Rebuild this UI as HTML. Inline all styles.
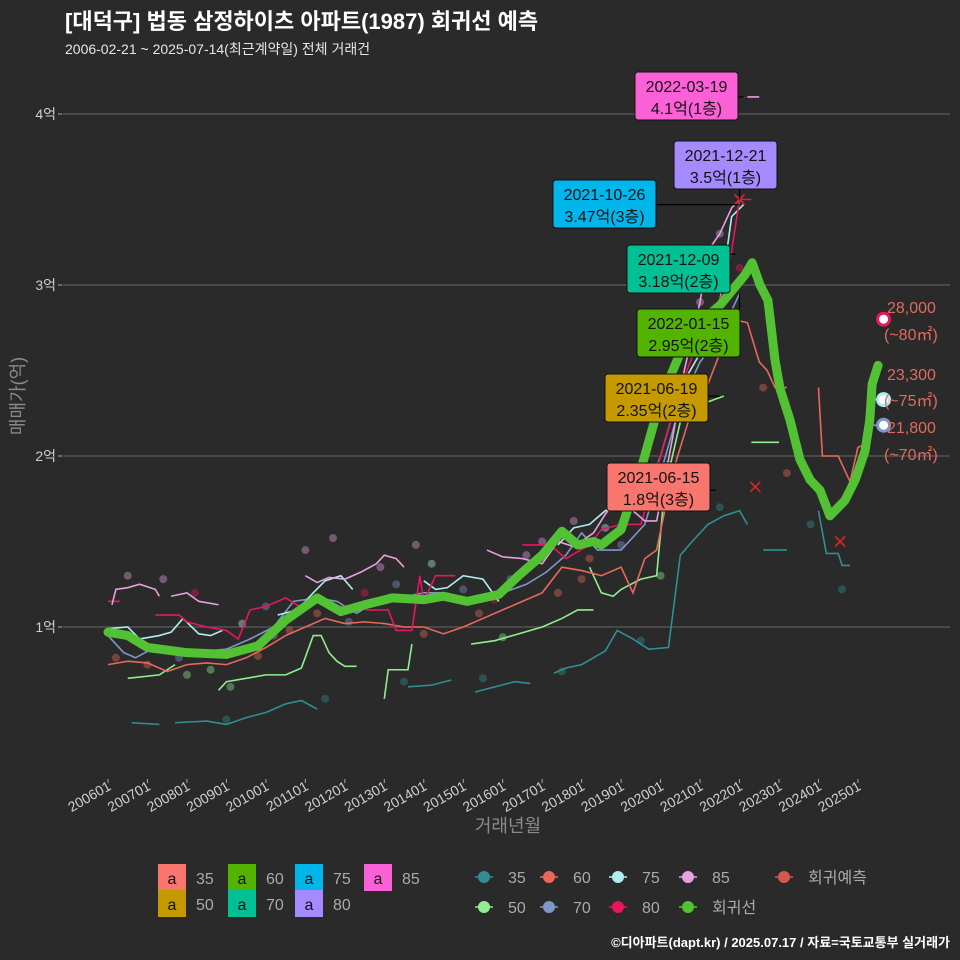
<!DOCTYPE html>
<html><head><meta charset="utf-8">
<style>
html,body{margin:0;padding:0;background:#2a2a2a;}
svg{display:block;font-family:"Liberation Sans","Noto Sans CJK KR",sans-serif;}
</style></head>
<body>
<svg id="chart" width="960" height="960" viewBox="0 0 960 960">
<rect width="960" height="960" fill="#2a2a2a"/>
<text x="65" y="29" fill="#fff" font-size="22" font-weight="bold">[대덕구] 법동 삼정하이츠 아파트(1987) 회귀선 예측</text>
<text x="65" y="54" fill="#e6e6e6" font-size="14">2006-02-21 ~ 2025-07-14(최근계약일) 전체 거래건</text>
<g id="grid"></g>
<g id="series"></g>
<g id="annot"></g>
<text transform="translate(24,396) rotate(-90)" text-anchor="middle" fill="#8a8a8a" font-size="18">매매가(억)</text>
<text x="508" y="832" text-anchor="middle" fill="#8a8a8a" font-size="18">거래년월</text>
<g id="legend"></g>
<text x="950" y="947" text-anchor="end" fill="#fff" font-size="13" font-weight="bold">©디아파트(dapt.kr) / 2025.07.17 / 자료=국토교통부 실거래가</text>
</svg>
<script>
// ---- data ----
const yTicks = [1, 2, 3, 4];
const yTickLabels = ["1억", "2억", "3억", "4억"];
const xTickYears = [2006,2007,2008,2009,2010,2011,2012,2013,2014,2015,2016,2017,2018,2019,2020,2021,2022,2023,2024,2025];
const xTickLabels = ["200601","200701","200801","200901","201001","201101","201201","201301","201401","201501","201601","201701","201801","201901","202001","202101","202201","202301","202401","202501"];

const seriesNames = ["35","50","60","70","75","80","85"];
const seriesColors = {"35":"#2f8f94","50":"#90ee90","60":"#e8685b","70":"#7f97c8","75":"#aeeeee","80":"#e8155f","85":"#e7a1df"};

const s35 = [
 [[2006.6,0.44],[2007.3,0.43]],
 [[2007.7,0.44],[2008.5,0.45],[2009.0,0.43],[2009.5,0.47],[2010.0,0.5],[2010.5,0.55],[2010.9,0.57],[2011.3,0.52]],
 [[2013.6,0.65],[2014.2,0.66],[2014.7,0.69]],
 [[2015.3,0.62],[2015.8,0.65],[2016.3,0.68],[2016.7,0.67]],
 [[2017.3,0.73],[2017.6,0.76],[2018.0,0.78],[2018.6,0.86],[2018.9,0.98],[2019.3,0.93],[2019.7,0.87],[2020.2,0.88],[2020.5,1.42],[2020.8,1.5],[2021.2,1.6],[2021.6,1.65],[2022.0,1.68],[2022.2,1.6]],
 [[2022.6,1.45],[2023.2,1.45]],
 [[2024.0,1.68],[2024.2,1.43],[2024.5,1.43],[2024.6,1.36],[2024.8,1.36]]
];
const s50 = [
 [[2006.5,0.7],[2007.3,0.72],[2007.7,0.78]],
 [[2008.8,0.63],[2009.0,0.68],[2009.5,0.7],[2010.0,0.72],[2010.5,0.72],[2010.9,0.76],[2011.2,0.95],[2011.4,0.95],[2011.6,0.85],[2011.8,0.8],[2012.0,0.77],[2012.3,0.77]],
 [[2013.0,0.58],[2013.1,0.75],[2013.6,0.75],[2013.7,0.9]],
 [[2015.2,0.9],[2015.8,0.92],[2016.4,0.96],[2017.0,1.0],[2017.5,1.05],[2017.9,1.1],[2018.3,1.1]],
 [[2018.2,1.35],[2018.5,1.2],[2018.8,1.18],[2019.0,1.22],[2019.5,1.28],[2019.9,1.3],[2020.1,1.8],[2020.5,2.2],[2021.0,2.3],[2021.6,2.35]],
 [[2022.3,2.08],[2023.0,2.08]]
];
const s60 = [
 [[2006.0,0.78],[2006.5,0.8],[2007.0,0.79],[2007.5,0.74],[2008.0,0.78],[2008.5,0.79],[2009.0,0.78],[2009.5,0.82],[2010.0,0.88],[2010.5,0.95],[2011.0,1.0],[2011.5,1.05],[2012.0,1.02],[2012.5,1.03],[2013.0,1.02],[2013.5,1.0],[2014.0,1.0],[2014.5,0.96],[2015.0,1.0],[2015.5,1.05],[2016.0,1.1],[2016.5,1.15],[2017.0,1.2],[2017.5,1.35],[2018.0,1.33],[2018.5,1.3],[2019.0,1.35],[2019.3,1.2],[2019.6,1.4],[2019.9,1.45],[2020.3,1.9],[2020.7,2.2],[2021.0,2.3],[2021.5,2.6],[2021.8,2.8],[2022.2,2.78],[2022.5,2.55],[2022.7,2.5],[2022.9,2.4],[2023.2,2.4]],
 [[2024.0,2.4],[2024.1,2.0],[2024.5,2.0],[2024.8,1.85],[2025.0,2.05],[2025.2,2.07]]
];
const s70 = [
 [[2006.0,0.95],[2006.4,0.85],[2006.7,0.82],[2007.1,0.87],[2007.8,0.87],[2008.5,0.86],[2009.0,0.87],[2009.6,0.93],[2010.2,1.0],[2010.7,1.15],[2011.3,1.17],[2011.8,1.15],[2012.3,1.08],[2012.8,1.15],[2013.4,1.17],[2014.0,1.2],[2014.5,1.2],[2015.0,1.15],[2015.6,1.17],[2016.0,1.2],[2016.6,1.25],[2017.1,1.32],[2017.6,1.42],[2018.0,1.55],[2018.4,1.45],[2019.0,1.45],[2019.6,1.6],[2020.0,1.9],[2020.5,2.3],[2021.0,2.55],[2021.5,2.7],[2022.0,2.95]],
 [[2025.3,2.18],[2025.6,2.18]]
];
const s75 = [
 [[2006.0,0.99],[2006.5,1.0],[2006.8,0.93],[2007.3,0.95],[2007.6,0.97],[2007.9,1.05],[2008.3,0.96],[2008.6,0.95],[2008.9,0.98]],
 [[2010.3,1.07],[2010.8,1.1],[2011.2,1.2],[2011.5,1.27],[2011.9,1.3],[2012.2,1.22]],
 [[2014.0,1.27],[2014.3,1.22],[2014.6,1.23],[2015.0,1.3],[2015.5,1.28],[2015.9,1.15]],
 [[2017.4,1.48],[2017.8,1.58],[2018.2,1.6],[2018.6,1.68],[2019.0,1.72],[2019.6,1.75],[2020.0,2.0],[2020.5,2.4],[2021.0,2.6],[2021.5,2.9],[2021.8,3.4],[2022.1,3.47]],
 [[2025.3,2.33],[2025.6,2.33]]
];
const s80 = [
 [[2006.0,1.15],[2006.3,1.15]],
 [[2007.2,1.07],[2007.8,1.07],[2008.0,1.03],[2008.5,1.0],[2009.0,0.98],[2009.3,0.93],[2009.6,1.1],[2010.0,1.12],[2010.5,1.17],[2011.0,1.1]],
 [[2011.8,1.12],[2012.2,1.12],[2012.6,1.1],[2013.1,1.1],[2013.3,0.98],[2013.7,0.98],[2013.9,1.3],[2014.0,1.15],[2014.3,1.3],[2014.8,1.3]],
 [[2016.5,1.48],[2017.2,1.48],[2017.6,1.4],[2018.2,1.48],[2018.5,1.57],[2019.0,1.6],[2019.5,1.6],[2020.0,2.0],[2020.5,2.4],[2021.0,2.7],[2021.5,2.9],[2021.8,3.2],[2022.0,3.5],[2022.3,3.5]]
];
const s85 = [
 [[2006.1,1.13],[2006.2,1.22],[2006.5,1.23],[2006.8,1.25],[2007.2,1.22],[2007.3,1.18]],
 [[2007.6,1.18],[2008.0,1.2],[2008.3,1.15],[2008.8,1.13]],
 [[2011.0,1.3],[2011.3,1.26],[2011.6,1.29],[2012.0,1.28],[2012.4,1.32],[2012.8,1.37],[2013.0,1.42],[2013.3,1.40],[2013.5,1.35]],
 [[2015.6,1.45],[2016.0,1.41],[2016.5,1.40],[2017.0,1.37],[2017.4,1.50],[2017.8,1.47],[2018.3,1.55],[2018.6,1.66],[2018.9,1.75],[2019.2,1.70],[2019.6,1.62],[2019.9,1.62],[2020.3,2.1],[2020.6,2.5],[2021.0,2.9],[2021.2,3.2],[2021.5,3.3],[2021.8,3.45],[2022.0,3.5]],
 [[2022.1,4.1],[2022.5,4.1]]
];
const seriesSegments = {"35":s35,"50":s50,"60":s60,"70":s70,"75":s75,"80":s80,"85":s85};

const regYears = [2006.0,2006.5,2007.0,2008.0,2009.0,2009.8,2010.5,2011.3,2011.9,2012.5,2013.2,2014.0,2014.5,2015.1,2015.9,2016.4,2017.0,2017.5,2017.9,2018.3,2018.5,2019.0,2019.5,2020.0,2020.75,2021.5,2022.14,2022.32,2022.52,2022.72,2022.9,2023.03,2023.28,2023.53,2023.79,2024.04,2024.29,2024.67,2024.93,2025.18,2025.3,2025.36,2025.51];
const regValues = [0.97,0.95,0.88,0.85,0.84,0.89,1.04,1.17,1.09,1.13,1.17,1.16,1.18,1.15,1.19,1.30,1.42,1.56,1.48,1.50,1.48,1.57,1.92,2.33,2.74,2.88,3.06,3.13,3.0,2.91,2.56,2.39,2.21,1.98,1.86,1.80,1.65,1.74,1.86,2.03,2.21,2.42,2.53];

const dotYears = [2006.2,2006.5,2007.0,2007.4,2007.8,2008.2,2008.6,2009.1,2009.4,2009.8,2010.2,2010.6,2011.0,2011.3,2011.7,2012.1,2012.5,2012.9,2013.3,2013.8,2014.2,2014.6,2015.0,2015.4,2015.8,2016.2,2016.6,2017.0,2017.4,2017.8,2018.2,2018.6,2019.0,2019.4,2019.8,2020.2,2020.6,2021.0,2021.5,2022.0,2022.6,2023.2,2023.8,2024.3,2024.6,2008.0,2010.0,2012.0,2014.0,2016.0,2018.0,2020.0,2009.0,2011.5,2013.5,2015.5,2017.5,2019.5,2021.5,2023.0];
const dotValues = [0.82,1.3,0.78,1.28,0.82,1.2,0.75,0.65,1.02,0.83,0.95,0.98,1.45,1.08,1.52,1.03,1.2,1.35,1.25,1.48,1.37,1.18,1.22,1.08,1.16,1.28,1.42,1.5,1.2,1.62,1.4,1.58,1.48,1.72,1.7,1.95,2.4,2.9,3.3,3.1,2.4,1.9,1.6,1.65,1.22,0.72,1.12,1.1,0.96,0.94,1.28,1.3,0.46,0.58,0.68,0.7,0.74,0.92,1.7,2.4];
const dotSeries = ["60","85","60","85","70","80","50","50","75","60","70","60","85","60","85","70","80","85","70","85","75","60","70","60","80","70","85","85","60","85","60","75","70","85","80","70","75","85","85","80","60","60","35","60","35","50","70","60","60","50","60","50","35","35","35","35","35","35","35","60"];

const predYears = [2022.0,2022.4,2024.55];
const predValues = [3.5,1.82,1.5];

const endNames = ["80","75","70"];
const endYears = [2025.65,2025.65,2025.65];
const endValues = [2.8,2.33,2.18];
const endPrices = ["28,000","23,300","21,800"];
const endAreas = ["(~80㎡)","(~75㎡)","(~70㎡)"];

const annDates = ["2022-03-19","2021-12-21","2021-10-26","2021-12-09","2022-01-15","2021-06-19","2021-06-15"];
const annPrices = ["4.1억(1층)","3.5억(1층)","3.47억(3층)","3.18억(2층)","2.95억(2층)","2.35억(2층)","1.8억(3층)"];
const annYears = [2022.2,2022.0,2021.98,2021.9,2022.0,2021.5,2021.4];
const annValues = [4.1,3.5,3.47,3.18,2.95,2.35,1.8];
const annFills = ["#fb61d7","#a58aff","#00b6eb","#00c094","#53b400","#c49a00","#f8766d"];

// ---- scales ----
const X = yr => 108 + (yr - 2006) * 39.47;
const Y = v => 798 - 171 * v;
const NS = "http://www.w3.org/2000/svg";
function mk(tag, attrs, parent){const e=document.createElementNS(NS,tag);for(const k in attrs)e.setAttribute(k,attrs[k]);parent.appendChild(e);return e;}

const grid = document.getElementById('grid');
yTicks.forEach((t,i)=>{
  const g = mk('line',{x1:63,x2:950,y1:Y(t),y2:Y(t),stroke:'#5c5c5c','stroke-width':1.2},grid);
  
  
  const tk = mk('line',{x1:58,x2:62,y1:Y(t),y2:Y(t),stroke:'#aaa'},grid);
  
  
  const tx = mk('text',{x:56,y:Y(t)+5,'text-anchor':'end',fill:'#cfcfcf','font-size':14},grid);
  tx.textContent = yTickLabels[i];
  
  
});
xTickYears.forEach((yr,i)=>{
  const x = X(yr);
  const tk = mk('line',{x1:x,x2:x,y1:779,y2:783,stroke:'#aaa'},grid);
  
  
  const tx = mk('text',{transform:`translate(${x+4},${789}) rotate(-30)`,'text-anchor':'end',fill:'#cfcfcf','font-size':14},grid);
  tx.textContent = xTickLabels[i];
  
  
});

const sg = document.getElementById('series');
dotYears.forEach((yr,i)=>{
  const c = mk('circle',{cx:X(yr),cy:Y(dotValues[i]),r:4,fill:seriesColors[dotSeries[i]],'fill-opacity':0.4},sg);
  
  
});
seriesNames.forEach(n=>{
  seriesSegments[n].forEach(seg=>{
    const p = mk('polyline',{points:seg.map(d=>X(d[0])+','+Y(d[1])).join(' '),fill:'none',stroke:seriesColors[n],'stroke-width':1.6},sg);
    
    
  });
});
const reg = mk('polyline',{points:regYears.map((y,i)=>X(y)+','+Y(regValues[i])).join(' '),fill:'none',stroke:'#52c234','stroke-width':9,'stroke-linejoin':'round','stroke-linecap':'round'},sg);


predYears.forEach((yr,i)=>{
  const x=X(yr),y=Y(predValues[i]);
  const p = mk('path',{d:`M${x-5},${y-5}L${x+5},${y+5}M${x-5},${y+5}L${x+5},${y-5}`,stroke:'#d62728','stroke-width':1.6},sg);
  
  
});
const priceYs=[313,380,433];
const areaYs=[340,406,460];
endNames.forEach((n,i)=>{
  const x=X(endYears[i]),y=Y(endValues[i]);
  const c = mk('circle',{cx:x,cy:y,r:6,fill:'#fff',stroke:seriesColors[n],'stroke-width':3},sg);
  
  
  const t1 = mk('text',{x:887,y:priceYs[i],fill:'#e06a5f','font-size':16},sg);
  t1.textContent = endPrices[i];
  
  
  const t2 = mk('text',{x:884,y:areaYs[i],fill:'#e06a5f','font-size':16},sg);
  t2.textContent = endAreas[i];
  
  
});

const boxes = [[635,72],[674,141],[553,180],[627,245],[637,309],[605,374],[607,463]];
const an = document.getElementById('annot');
annDates.forEach((d,i)=>{
  const [bx,by]=boxes[i];
  const px=X(annYears[i]), py=Y(annValues[i]);
  const ln = mk('line',{x1:Math.min(Math.max(px,bx),bx+103),y1:Math.min(Math.max(py,by),by+48),x2:px,y2:py,stroke:'#000','stroke-width':1.2},an);
  
  
  const r = mk('rect',{x:bx,y:by,width:103,height:48,rx:3,fill:annFills[i],stroke:'#111','stroke-width':1},an);
  
  
  const t1 = mk('text',{x:bx+51.5,y:by+20,'text-anchor':'middle',fill:'#111','font-size':16},an);
  t1.textContent = d;
  
  
  const t2 = mk('text',{x:bx+51.5,y:by+42,'text-anchor':'middle',fill:'#111','font-size':16},an);
  t2.textContent = annPrices[i];
  
  
});

const lg = document.getElementById('legend');
const boxLeg = [["35",158,864],["60",228,864],["75",295,864],["85",364,864],["50",158,890],["70",228,890],["80",295,890]];
const boxFill = {"35":"#f8766d","50":"#c49a00","60":"#53b400","70":"#00c094","75":"#00b6eb","80":"#a58aff","85":"#fb61d7"};
boxLeg.forEach(([n,x,y])=>{
  const r = mk('rect',{x:x,y:y,width:28,height:27,fill:boxFill[n]},lg);
  
  
  const a = mk('text',{x:x+14,y:y+20,'text-anchor':'middle',fill:'#111','font-size':16},lg);
  a.textContent='a';
  
  
  const t = mk('text',{x:x+38,y:y+20,fill:'#aaa','font-size':16},lg);
  t.textContent=n;
  
  
});
const ptLeg = [["35",484,877,"#2f8f94"],["60",549,877,"#e8685b"],["75",618,877,"#aeeeee"],["85",688,877,"#e7a1df"],["회귀예측",784,877,"#d9574e"],["50",484,907,"#90ee90"],["70",549,907,"#7f97c8"],["80",618,907,"#e8155f"],["회귀선",688,907,"#52c234"]];
ptLeg.forEach(([n,x,y,c])=>{
  const l = mk('line',{x1:x-9,x2:x+9,y1:y,y2:y,stroke:c,'stroke-width':1.5},lg);
  
  
  const ci = mk('circle',{cx:x,cy:y,r:6,fill:c},lg);
  
  
  const t = mk('text',{x:x+24,y:y+6,fill:'#aaa','font-size':16},lg);
  t.textContent=n;
  
  
});
</script>
</body></html>
